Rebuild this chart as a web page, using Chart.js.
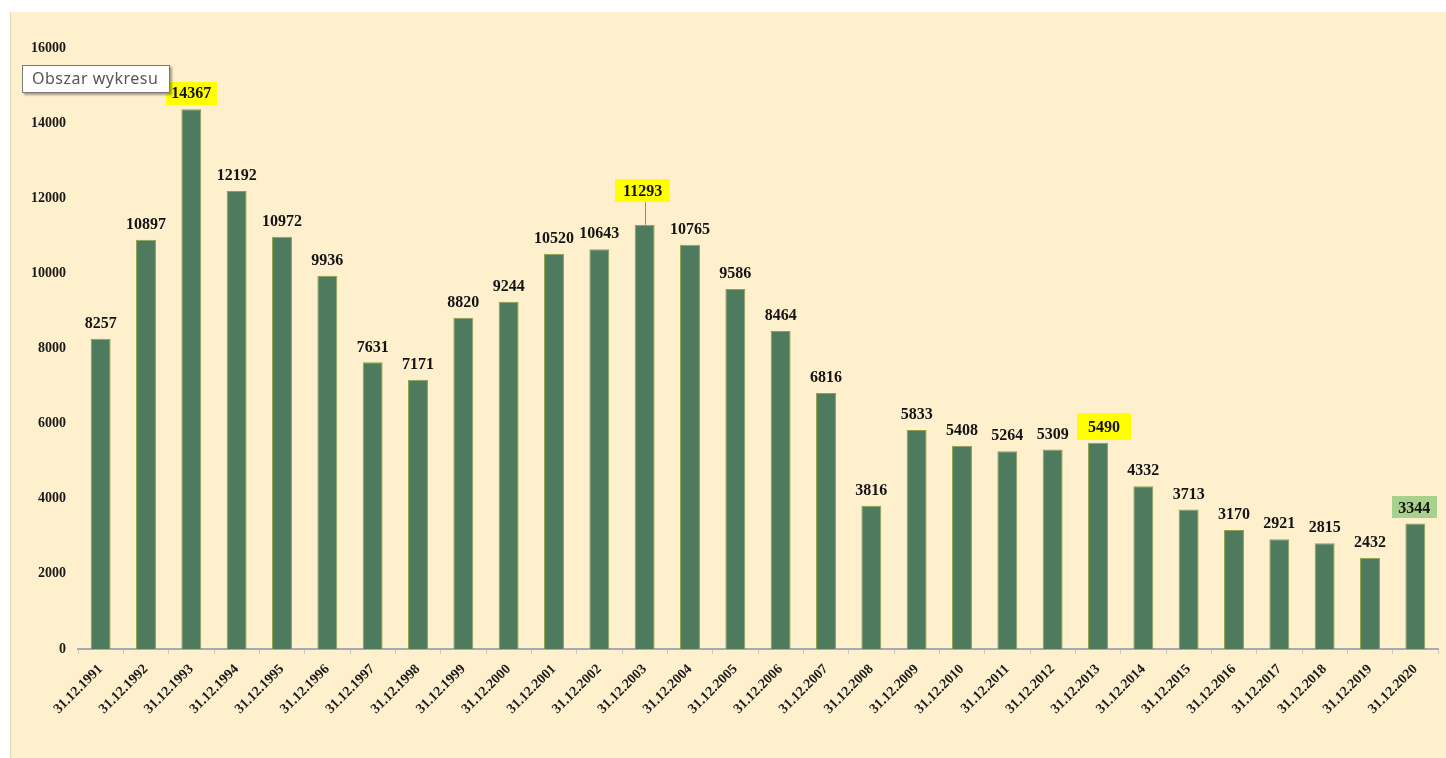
<!DOCTYPE html>
<html>
<head>
<meta charset="utf-8">
<script src="https://cdn.jsdelivr.net/npm/chart.js@4/dist/chart.umd.min.js"></script>
<style>
  html, body { margin: 0; background: #fff; }
  #wrap {
    position: absolute; left: 10px; top: 12px; width: 1436px; height: 746px;
    background: #FEF0CD; box-shadow: inset 1px 0 0 #E2D8BB;
  }
  #chart { display: block; }
  #tip {
    position: absolute; left: 22px; top: 65px; width: 148px; height: 28px;
    box-sizing: border-box; background: #fff; border: 1px solid #7a7a7a;
    box-shadow: 2px 2px 2px rgba(0,0,0,0.35);
    font: 16px "Noto Sans", sans-serif; color: #575757; letter-spacing: 0.5px;
    padding-left: 9px; line-height: 25px; white-space: nowrap;
  }
</style>
</head>
<body>
<div id="wrap"><canvas id="chart" width="1436" height="746"></canvas></div>
<div id="tip">Obszar wykresu</div>
<script>
// year-end counts, 1991-2020
const labels = [
  '31.12.1991', '31.12.1992', '31.12.1993', '31.12.1994', '31.12.1995',
  '31.12.1996', '31.12.1997', '31.12.1998', '31.12.1999', '31.12.2000',
  '31.12.2001', '31.12.2002', '31.12.2003', '31.12.2004', '31.12.2005',
  '31.12.2006', '31.12.2007', '31.12.2008', '31.12.2009', '31.12.2010',
  '31.12.2011', '31.12.2012', '31.12.2013', '31.12.2014', '31.12.2015',
  '31.12.2016', '31.12.2017', '31.12.2018', '31.12.2019', '31.12.2020'
];
const values = [
  8257, 10897, 14367, 12192, 10972, 9936, 7631, 7171, 8820, 9244,
  10520, 10643, 11293, 10765, 9586, 8464, 6816, 3816, 5833, 5408,
  5264, 5309, 5490, 4332, 3713, 3170, 2921, 2815, 2432, 3344
];
const yMax = 16000;
const yStep = 2000;

// labels drawn on a coloured box
const markedLabels = {
  '31.12.1993': { fill: '#FFFF00', w: 51, h: 23, dx: 0 },
  '31.12.2003': { fill: '#FFFF00', w: 55, h: 23, dx: -2 },
  '31.12.2013': { fill: '#FFFF00', w: 54, h: 27, dx: 6 },
  '31.12.2020': { fill: '#A9D18E', w: 45, h: 22, dx: -1 }
};
// labels pulled up with a leader line
const raisedLabels = { '31.12.2003': 18 };

const serif = '"Liberation Serif", "Times New Roman", serif';

const valueLabels = {
  id: 'valueLabels',
  afterDatasetsDraw(chart) {
    const ctx = chart.ctx;
    const meta = chart.getDatasetMeta(0);
    ctx.save();
    ctx.font = 'bold 16px ' + serif;
    ctx.textAlign = 'center';
    ctx.textBaseline = 'middle';
    meta.data.forEach((bar, i) => {
      const key = labels[i];
      const lift = raisedLabels[key] || 0;
      const mark = markedLabels[key];
      const x = bar.x + (mark ? mark.dx : 0);
      const y = bar.y - 16 - lift;
      if (lift) {
        ctx.strokeStyle = '#8c8c8c';
        ctx.lineWidth = 1;
        ctx.beginPath();
        ctx.moveTo(Math.round(bar.x) + 0.5, y + (mark ? mark.h / 2 : 10));
        ctx.lineTo(Math.round(bar.x) + 0.5, bar.y);
        ctx.stroke();
      }
      if (mark) {
        ctx.fillStyle = mark.fill;
        ctx.fillRect(Math.round(x - mark.w / 2), Math.round(y - mark.h / 2), mark.w, mark.h);
      }
      ctx.fillStyle = '#141414';
      ctx.fillText(String(values[i]), x, y + 1);
    });
    ctx.restore();
  }
};

new Chart(document.getElementById('chart').getContext('2d'), {
  type: 'bar',
  data: {
    labels,
    datasets: [{
      data: values,
      backgroundColor: '#4E7B5E',
      borderColor: '#8EA14A',
      borderWidth: 1,
      barPercentage: 0.44,
      categoryPercentage: 1
    }]
  },
  plugins: [valueLabels],
  options: {
    responsive: false,
    animation: false,
    devicePixelRatio: 1,
    layout: { padding: { top: 36, right: 8, left: 0, bottom: 0 } },
    plugins: {
      legend: { display: false },
      tooltip: { enabled: false }
    },
    scales: {
      x: {
        grid: { display: true, drawOnChartArea: false, offset: true, tickLength: 5, color: '#CFC8B4' },
        border: { display: true, color: '#A3AAB8', width: 2 },
        ticks: {
          autoSkip: false,
          minRotation: 45,
          maxRotation: 45,
          padding: 7,
          color: '#1a1a1a',
          font: { family: serif, size: 14, weight: 'bold' }
        },
        afterFit(axis) { axis.height = 109; }
      },
      y: {
        min: 0,
        max: yMax,
        grid: { display: false, drawTicks: false },
        border: { display: false },
        ticks: {
          stepSize: yStep,
          padding: 12,
          color: '#1a1a1a',
          font: { family: serif, size: 14, weight: 'bold' },
          callback: v => String(v)
        },
        afterFit(axis) { axis.width = 68; }
      }
    }
  }
});
</script>
</body>
</html>
